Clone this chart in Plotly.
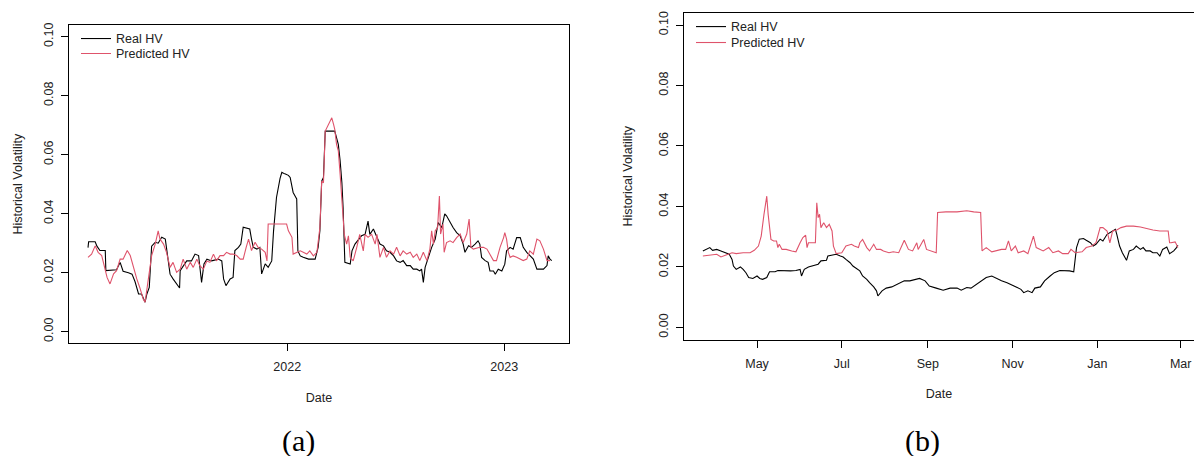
import pandas as pd
import plotly.graph_objects as go

# ---------------- data: panel (a) ----------------
a_start = "2021-01-31"
a_real_day = [0, 1, 12, 15, 20, 29, 30, 45, 48, 54, 59, 68, 74, 79, 85, 90, 96, 99, 103, 107, 113, 118, 124, 130, 132, 135, 138, 143, 149, 154, 155, 160, 166, 174, 180, 186, 188, 191, 195, 200, 208, 219, 225, 228, 232, 239, 244, 247, 253, 257, 261, 272, 275, 278, 284, 289, 292, 298, 303, 309, 312, 317, 323, 326, 331, 337, 340, 343, 345, 348, 351, 353, 357, 362, 371, 382, 387, 390, 393, 396, 399, 415, 418, 421, 424, 427, 429, 432, 441, 444, 449, 455, 460, 466, 471, 474, 480, 486, 491, 497, 502, 508, 514, 519, 525, 530, 536, 542, 547, 553, 558, 561, 564, 567, 572, 578, 584, 589, 595, 600, 603, 609, 614, 620, 626, 631, 634, 640, 645, 651, 656, 659, 662, 668, 673, 676, 682, 685, 690, 696, 701, 704, 710, 715, 721, 727, 732, 738, 743, 749, 755, 766, 772, 774, 777, 780]
a_real_val = [0.0285, 0.0305, 0.0305, 0.029, 0.0275, 0.0275, 0.0207, 0.021, 0.021, 0.0235, 0.0205, 0.020, 0.0195, 0.017, 0.0128, 0.0128, 0.010, 0.0128, 0.015, 0.029, 0.0303, 0.030, 0.032, 0.0314, 0.0286, 0.025, 0.0195, 0.0179, 0.016, 0.0148, 0.0207, 0.0224, 0.024, 0.024, 0.0263, 0.0258, 0.0224, 0.0167, 0.023, 0.0246, 0.024, 0.0246, 0.024, 0.0179, 0.0156, 0.0179, 0.0184, 0.0275, 0.0286, 0.0297, 0.0354, 0.0348, 0.0314, 0.0286, 0.028, 0.0286, 0.0196, 0.023, 0.0218, 0.024, 0.034, 0.0455, 0.052, 0.054, 0.0535, 0.053, 0.0523, 0.0483, 0.0472, 0.0461, 0.045, 0.0274, 0.0257, 0.0252, 0.0246, 0.0246, 0.0286, 0.0342, 0.051, 0.0523, 0.068, 0.068, 0.0657, 0.0635, 0.058, 0.0505, 0.0422, 0.0235, 0.0229, 0.0274, 0.0297, 0.0314, 0.0325, 0.033, 0.0375, 0.033, 0.0348, 0.032, 0.0297, 0.0291, 0.0274, 0.0269, 0.0257, 0.024, 0.0235, 0.0241, 0.0224, 0.0224, 0.0212, 0.0212, 0.0206, 0.0212, 0.0167, 0.0218, 0.0252, 0.0286, 0.0314, 0.037, 0.0353, 0.0399, 0.0393, 0.037, 0.0353, 0.0336, 0.0325, 0.0297, 0.0269, 0.0291, 0.0286, 0.0297, 0.0308, 0.0297, 0.0252, 0.0241, 0.0235, 0.0206, 0.0206, 0.0195, 0.0212, 0.0206, 0.0229, 0.0274, 0.0286, 0.028, 0.0319, 0.0319, 0.0286, 0.0269, 0.0257, 0.0246, 0.0212, 0.0212, 0.0224, 0.0257, 0.0246, 0.0241]
a_pred_day = [0, 6, 12, 17, 23, 29, 32, 37, 43, 48, 54, 59, 66, 71, 76, 82, 87, 93, 96, 101, 107, 113, 118, 121, 127, 132, 138, 143, 149, 155, 160, 166, 172, 177, 183, 188, 194, 200, 205, 211, 216, 222, 228, 233, 239, 244, 250, 256, 261, 266, 270, 275, 281, 286, 292, 298, 301, 303, 312, 323, 334, 337, 343, 345, 351, 357, 362, 368, 373, 379, 385, 390, 393, 396, 399, 404, 410, 413, 415, 418, 421, 424, 427, 431, 435, 438, 441, 446, 452, 457, 463, 466, 471, 477, 483, 486, 491, 497, 502, 508, 514, 519, 525, 530, 536, 542, 547, 553, 558, 564, 570, 575, 578, 581, 584, 588, 591, 593, 597, 599, 603, 609, 614, 620, 626, 631, 637, 641, 644, 648, 659, 665, 671, 676, 682, 687, 693, 699, 701, 704, 707, 710, 715, 721, 727, 732, 738, 743, 749, 755, 760, 766, 772, 777]
a_pred_val = [0.0252, 0.0263, 0.0291, 0.0269, 0.0258, 0.0207, 0.0184, 0.0162, 0.0196, 0.0207, 0.0246, 0.0246, 0.0275, 0.0258, 0.0218, 0.0179, 0.015, 0.011, 0.010, 0.0173, 0.0258, 0.0297, 0.0342, 0.0314, 0.0297, 0.0269, 0.0218, 0.0235, 0.0201, 0.0212, 0.0246, 0.0212, 0.0235, 0.0218, 0.0246, 0.0224, 0.0212, 0.024, 0.0235, 0.0263, 0.024, 0.0258, 0.0258, 0.0269, 0.0263, 0.0263, 0.0258, 0.0246, 0.0246, 0.0286, 0.0314, 0.0275, 0.0303, 0.0286, 0.028, 0.0269, 0.024, 0.0365, 0.0365, 0.0365, 0.0365, 0.0342, 0.032, 0.0263, 0.0269, 0.0274, 0.0269, 0.0263, 0.0274, 0.0257, 0.0269, 0.0353, 0.051, 0.0505, 0.068, 0.0703, 0.0725, 0.0703, 0.0686, 0.0635, 0.0613, 0.0534, 0.0455, 0.033, 0.0297, 0.0325, 0.0252, 0.024, 0.0286, 0.033, 0.0274, 0.033, 0.032, 0.033, 0.0297, 0.033, 0.0252, 0.0286, 0.0252, 0.0274, 0.0263, 0.0286, 0.0257, 0.0274, 0.0263, 0.0269, 0.0252, 0.0263, 0.0241, 0.0269, 0.0241, 0.028, 0.0342, 0.0297, 0.0342, 0.0353, 0.046, 0.0331, 0.0365, 0.0269, 0.0302, 0.0308, 0.0302, 0.0319, 0.0331, 0.0302, 0.0331, 0.0382, 0.0286, 0.028, 0.0286, 0.0286, 0.028, 0.0263, 0.0241, 0.0241, 0.0286, 0.0319, 0.0336, 0.0314, 0.0269, 0.0252, 0.0257, 0.0252, 0.0246, 0.0241, 0.0246, 0.0274, 0.0263, 0.0314, 0.0308, 0.028, 0.0241, 0.0241]

# ---------------- data: panel (b) ----------------
b_start = "2023-03-23"
b_real_day = [0, 3, 5, 7, 10, 13, 17, 19, 21, 22, 24, 27, 29, 31, 33, 36, 39, 41, 43, 46, 48, 52, 54, 58, 63, 67, 70, 71, 73, 76, 79, 83, 85, 89, 90, 93, 96, 99, 101, 103, 106, 108, 111, 113, 115, 118, 120, 123, 125, 126, 129, 132, 136, 139, 145, 149, 153, 156, 160, 163, 168, 173, 178, 183, 186, 190, 193, 197, 201, 204, 208, 211, 215, 219, 222, 226, 229, 231, 234, 237, 239, 243, 246, 250, 253, 257, 261, 264, 267, 268, 269, 271, 274, 276, 279, 281, 283, 286, 288, 291, 293, 297, 298, 300, 302, 305, 307, 310, 312, 315, 317, 319, 322, 324, 327, 329, 331, 334, 336, 339, 341, 342]
b_real_val = [0.0253, 0.0258, 0.0264, 0.0255, 0.0258, 0.0253, 0.0247, 0.0242, 0.0225, 0.0203, 0.0192, 0.020, 0.0192, 0.0181, 0.0165, 0.0162, 0.017, 0.0162, 0.0159, 0.0165, 0.0184, 0.0184, 0.0188, 0.0187, 0.0187, 0.0188, 0.0192, 0.017, 0.0192, 0.020, 0.0203, 0.0209, 0.022, 0.0222, 0.0236, 0.0239, 0.0242, 0.0236, 0.0233, 0.0225, 0.0214, 0.0203, 0.0192, 0.0187, 0.017, 0.0159, 0.0148, 0.0134, 0.0121, 0.0104, 0.0121, 0.013, 0.0134, 0.0141, 0.0154, 0.0154, 0.0159, 0.0162, 0.0154, 0.0137, 0.013, 0.0123, 0.013, 0.013, 0.0123, 0.0132, 0.013, 0.0143, 0.0154, 0.0165, 0.017, 0.0162, 0.0154, 0.0148, 0.0141, 0.0132, 0.0126, 0.0115, 0.0121, 0.0115, 0.013, 0.0134, 0.0154, 0.017, 0.0181, 0.0188, 0.0188, 0.0187, 0.0184, 0.023, 0.0264, 0.0292, 0.0294, 0.0288, 0.028, 0.0269, 0.0275, 0.0292, 0.0286, 0.0308, 0.0313, 0.0324, 0.0308, 0.0269, 0.0247, 0.0222, 0.0253, 0.0258, 0.0269, 0.0258, 0.0264, 0.0253, 0.0253, 0.0247, 0.0247, 0.0236, 0.0258, 0.0266, 0.0244, 0.0253, 0.0264, 0.0272]
b_pred_day = [0, 5, 10, 13, 17, 21, 24, 29, 34, 37, 40, 42, 44, 46, 47, 49, 51, 53, 54, 55, 57, 60, 64, 67, 70, 72, 74, 75, 76, 81, 82, 83, 84, 85, 87, 89, 91, 93, 94, 96, 100, 103, 107, 109, 112, 113, 115, 118, 120, 123, 125, 128, 130, 134, 137, 141, 145, 148, 151, 154, 155, 159, 161, 165, 168, 169, 175, 183, 190, 195, 200, 201, 204, 208, 211, 215, 218, 220, 222, 225, 227, 231, 234, 238, 240, 243, 245, 249, 252, 256, 259, 263, 265, 268, 273, 276, 280, 283, 286, 288, 291, 293, 295, 298, 301, 305, 310, 315, 319, 324, 329, 335, 336, 337, 340, 342]
b_pred_val = [0.0236, 0.0239, 0.0242, 0.0233, 0.0239, 0.0247, 0.0244, 0.0247, 0.0247, 0.0255, 0.0269, 0.0302, 0.0374, 0.0434, 0.0374, 0.0291, 0.0286, 0.0286, 0.0264, 0.0275, 0.0258, 0.0258, 0.0253, 0.025, 0.028, 0.0297, 0.0305, 0.0264, 0.028, 0.028, 0.0412, 0.0363, 0.0374, 0.033, 0.0346, 0.033, 0.0341, 0.0319, 0.0269, 0.0244, 0.0247, 0.0269, 0.0275, 0.0269, 0.0264, 0.028, 0.0291, 0.0264, 0.0253, 0.0275, 0.0258, 0.0258, 0.0253, 0.0247, 0.025, 0.0247, 0.0288, 0.0258, 0.0253, 0.028, 0.0258, 0.0291, 0.0258, 0.0253, 0.0247, 0.038, 0.0382, 0.0382, 0.0386, 0.0382, 0.038, 0.0253, 0.0264, 0.025, 0.0253, 0.0258, 0.0258, 0.0286, 0.0253, 0.0269, 0.0247, 0.0253, 0.0244, 0.0302, 0.0264, 0.0258, 0.0253, 0.0264, 0.0247, 0.0253, 0.0244, 0.0244, 0.0258, 0.0247, 0.025, 0.0264, 0.0269, 0.028, 0.033, 0.033, 0.0319, 0.028, 0.0319, 0.0322, 0.033, 0.0335, 0.0335, 0.0332, 0.0327, 0.0322, 0.0319, 0.0319, 0.028, 0.028, 0.0283, 0.0264]

# tick labels
y_ticks = [0.00, 0.02, 0.04, 0.06, 0.08, 0.10]
a_xtick_vals = ["2022-01-01", "2023-01-01"]
a_xtick_text = ["2022", "2023"]
b_xtick_vals = ["2023-05-01", "2023-07-01", "2023-09-01", "2023-11-01", "2024-01-01", "2024-03-01"]
b_xtick_text = ["May", "Jul", "Sep", "Nov", "Jan", "Mar"]


def to_dates(start, days):
    return pd.Timestamp(start) + pd.to_timedelta(days, unit="D")


W, H = 1194, 456
BLACK = "#000000"
RED = "#DF536B"
FONT = "Liberation Sans, Arial, sans-serif"
FS = 12.5
TXT = "#222"

fig = go.Figure()
fig.add_trace(go.Scatter(x=to_dates(a_start, a_real_day), y=a_real_val, mode="lines",
                         name="Real HV", line=dict(color=BLACK, width=1.1),
                         xaxis="x", yaxis="y", legend="legend2"))
fig.add_trace(go.Scatter(x=to_dates(a_start, a_pred_day), y=a_pred_val, mode="lines",
                         name="Predicted HV", line=dict(color=RED, width=1.1),
                         xaxis="x", yaxis="y", legend="legend3"))
fig.add_trace(go.Scatter(x=to_dates(b_start, b_real_day), y=b_real_val, mode="lines",
                         name="Real HV", line=dict(color=BLACK, width=1.1),
                         xaxis="x2", yaxis="y2", legend="legend4"))
fig.add_trace(go.Scatter(x=to_dates(b_start, b_pred_day), y=b_pred_val, mode="lines",
                         name="Predicted HV", line=dict(color=RED, width=1.1),
                         xaxis="x2", yaxis="y2", legend="legend5"))

axis_common = dict(showgrid=False, zeroline=False, showline=True, linecolor=BLACK, linewidth=1,
                   ticks="outside", ticklen=7, tickcolor=BLACK, tickwidth=1,
                   tickfont=dict(family=FONT, size=FS, color=TXT),
                   title_font=dict(family=FONT, size=FS, color=TXT))


def leg(x_px, y_top_px):
    return dict(x=x_px / W, y=1 - y_top_px / H, xanchor="left", yanchor="top",
                bgcolor="rgba(0,0,0,0)", font=dict(family=FONT, size=FS, color=TXT),
                itemwidth=30)


fig.update_layout(
    width=W, height=H, margin=dict(l=0, r=0, t=0, b=0),
    paper_bgcolor="white", plot_bgcolor="white",
    font=dict(family=FONT, size=FS, color=TXT),
    xaxis=dict(domain=[69 / W, 569 / W], anchor="y", type="date",
               range=["2020-12-30", "2023-04-20"], mirror=True,
               tickmode="array", tickvals=a_xtick_vals, ticktext=a_xtick_text,
               ticklabelstandoff=5,
               title=dict(text="Date", standoff=19), **axis_common),
    yaxis=dict(domain=[1 - 343 / H, 1 - 23 / H], anchor="x", range=[-0.004, 0.104],
               mirror=True, tickmode="array", tickvals=y_ticks, tickformat=".2f", tickangle=-90,
               ticklabelstandoff=3,
               title=dict(text="Historical Volatility", standoff=16), **axis_common),
    xaxis2=dict(domain=[684 / W, 1.0], anchor="y2", type="date",
                range=["2023-03-09 10:00", "2024-03-10 14:00"], mirror=True,
                tickmode="array", tickvals=b_xtick_vals, ticktext=b_xtick_text,
                ticklabelstandoff=5,
                title=dict(text="Date", standoff=19), **axis_common),
    yaxis2=dict(domain=[1 - 339 / H, 1 - 11 / H], anchor="x2", range=[-0.004, 0.104],
                mirror=False, tickmode="array", tickvals=y_ticks, tickformat=".2f", tickangle=-90,
                ticklabelstandoff=3,
                title=dict(text="Historical Volatility", standoff=21), **axis_common),
    legend2=leg(76, 22),
    legend3=leg(76, 37),
    legend4=leg(691, 10),
    legend5=leg(691, 26),
    annotations=[
        dict(text="(a)", x=298 / W, y=1 - 441 / H, xref="paper", yref="paper",
             xanchor="center", yanchor="middle", showarrow=False,
             font=dict(family="Liberation Serif, Times New Roman, serif", size=30, color="black")),
        dict(text="(b)", x=922 / W, y=1 - 441 / H, xref="paper", yref="paper",
             xanchor="center", yanchor="middle", showarrow=False,
             font=dict(family="Liberation Serif, Times New Roman, serif", size=30, color="black")),
    ],
)

fig.write_html("out.html")
